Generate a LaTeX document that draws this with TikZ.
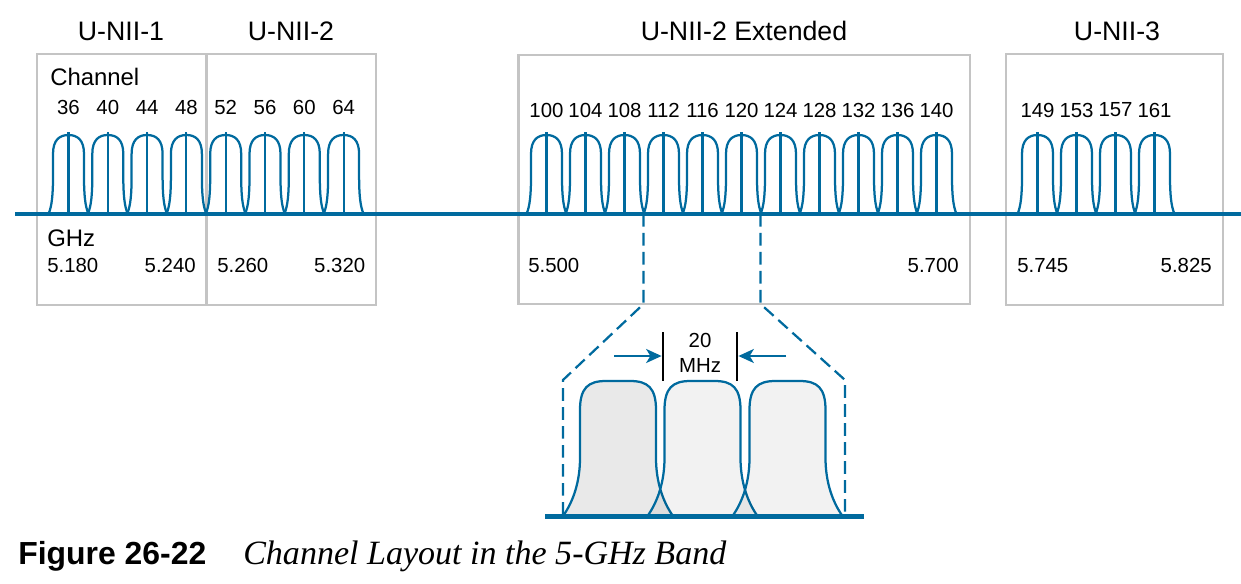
\documentclass[tikz,border=0pt]{standalone}
\usepackage{fontspec}
\setmainfont{Liberation Sans}
\newfontfamily\captionserif{Liberation Serif}
\usetikzlibrary{arrows.meta}
\definecolor{bandblue}{RGB}{0,106,158}
\definecolor{boxgray}{RGB}{196,196,196}

\newcommand{\narrowpath}{(-20,0) .. controls (-16.5,-8) and (-15.5,-20) .. (-15.5,-38) -- (-15.5,-60) .. controls (-15.5,-74) and (-9,-79) .. (0,-79) .. controls (9,-79) and (15.5,-74) .. (15.5,-60) -- (15.5,-38) .. controls (15.5,-20) and (16.5,-8) .. (20,0)}
\newcommand{\widepath}{(-55,0) .. controls (-45,-14) and (-38,-34) .. (-38,-58) -- (-38,-106) .. controls (-38,-128) and (-30,-135) .. (-12,-135) -- (12,-135) .. controls (30,-135) and (38,-128) .. (38,-106) -- (38,-58) .. controls (38,-34) and (45,-14) .. (55,0)}

\tikzset{
  pics/chan/.style={code={
    \draw[chanline] \narrowpath;
    \draw[chanline, line width=1.5pt] (0,0) -- (0,-82);
  }},
  pics/widechan/.style={code={
    \fill[pic actions] \widepath -- cycle;
    \draw[chanline] \widepath;
  }}
}

\begin{document}
\begin{tikzpicture}[
  x=0.025cm, y=-0.025cm,
  chanline/.style={draw=bandblue, line width=1.6pt},
  band/.style={draw=boxgray, line width=1.6pt},
  axis/.style={draw=bandblue, line width=3.5pt},
  projline/.style={draw=bandblue, line width=1.6pt, dash pattern=on 9pt off 4.5pt},
  bandtitle/.style={inner sep=0, font={\fontsize{19pt}{22pt}\selectfont}},
  label/.style={inner sep=0, font={\fontsize{17pt}{20pt}\selectfont}},
  chnum/.style={inner sep=0, font={\fontsize{14.5pt}{17pt}\selectfont}},
  freq/.style={inner sep=0, font={\fontsize{14.5pt}{17pt}\selectfont}}
]
  \useasboundingbox (0,0) rectangle (1241,584);

  % band boxes
  \draw[band] (37,54) rectangle (206.5,305);
  \draw[band] (206.5,54) rectangle (376,305);
  \draw[band] (518.5,55) rectangle (970,304);
  \draw[band] (1006,54) rectangle (1223,305);

  % band names
  \node[bandtitle] (unii1) at (121,31) {U-NII-1};
  \node[bandtitle] (unii2) at (291,31) {U-NII-2};
  \node[bandtitle] (unii2e) at (744,31) {U-NII-2 Extended};
  \node[bandtitle] (unii3) at (1117,31) {U-NII-3};

  \node[label, anchor=west] (chlabel) at (50,77) {Channel};
  \node[label, anchor=west] (ghzlabel) at (47,238.5) {GHz};

  % channels
  \foreach \ch [count=\i from 0] in {36,40,...,64} {
    \pgfmathsetmacro{\cx}{68.5+39.3*\i}
    \pic at (\cx,214) {chan};
    \node[chnum] (ch\ch) at (\cx,107.5) {\ch};
  }
  \foreach \ch [count=\i from 0] in {100,104,...,140} {
    \pgfmathsetmacro{\cx}{546.5+39*\i}
    \pic at (\cx,214) {chan};
    \node[chnum] (ch\ch) at (\cx,110) {\ch};
  }
  \foreach \ch [count=\i from 0] in {149,153,157,161} {
    \pgfmathsetmacro{\cx}{1037.5+39*\i}
    \pic at (\cx,214) {chan};
    \node[chnum] (ch\ch) at (\cx,110) {\ch};
  }

  \draw[axis] (15,214) -- (1241,214);

  % frequencies
  \node[freq, anchor=west] (f5180) at (47,265) {5.180};
  \node[freq, anchor=east] (f5240) at (196,265) {5.240};
  \node[freq, anchor=west] (f5260) at (217,265) {5.260};
  \node[freq, anchor=east] (f5320) at (365.5,265) {5.320};
  \node[freq, anchor=west] (f5500) at (528,265.5) {5.500};
  \node[freq, anchor=east] (f5700) at (959,265.5) {5.700};
  \node[freq, anchor=west] (f5745) at (1017,265.5) {5.745};
  \node[freq, anchor=east] (f5825) at (1212,265.5) {5.825};

  % close-up
  \coordinate (lfoot) at (643.5,214);
  \coordinate (lbend) at (643.5,304);
  \coordinate (lside) at (563,380);
  \coordinate (lbase) at (563,516);
  \coordinate (rfoot) at (760.5,214);
  \coordinate (rbend) at (760.5,304);
  \coordinate (rside) at (845,380);
  \coordinate (rbase) at (845,516);
  \draw[projline] (lfoot) -- (lbend) -- (lside) -- (lbase);
  \draw[projline] (rfoot) -- (rbend) -- (rside) -- (rbase);

  \pic[fill=black, fill opacity=0.085] at (618,516) {widechan};
  \pic[fill=black, fill opacity=0.05] at (702.5,516) {widechan};
  \pic[fill=black, fill opacity=0.05] at (787.5,516) {widechan};
  \draw[axis, line width=3.3pt] (545,516.5) -- (864,516.5);

  % channel width
  \coordinate (mkl) at (663,356);
  \coordinate (mkr) at (737,356);
  \coordinate (arrl) at (614,356);
  \coordinate (arrr) at (786,356);
  \draw[line width=2pt] (663,332) -- (663,381);
  \draw[line width=2pt] (737,332) -- (737,381);
  \draw[-{Stealth[length=11pt,width=10pt,inset=3pt]}, draw=bandblue, fill=bandblue, line width=1.4pt] (arrl) -- ([xshift=-1pt]mkl);
  \draw[-{Stealth[length=11pt,width=10pt,inset=3pt]}, draw=bandblue, fill=bandblue, line width=1.4pt] (arrr) -- ([xshift=1pt]mkr);
  \node[chnum, align=center, font={\fontsize{14.5pt}{17.8pt}\selectfont}] (width) at (700,352.5) {20\\MHz};

  % caption
  \node[inner sep=0, anchor=base west, font={\fontsize{22.7pt}{25pt}\selectfont\bfseries}] (figno) at (18,564) {Figure 26-22};
  \node[inner sep=0, anchor=base west, font={\fontsize{24.2pt}{27pt}\captionserif\itshape}] (figtitle) at (243,564) {Channel Layout in the 5-GHz Band};
\end{tikzpicture}
\end{document}
